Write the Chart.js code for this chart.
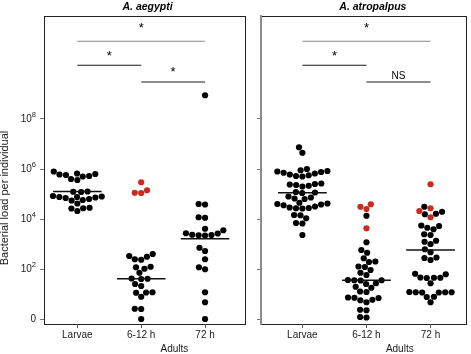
<!DOCTYPE html>
<html>
<head>
<meta charset="utf-8">
<script src="https://cdn.jsdelivr.net/npm/chart.js@4.4.1/dist/chart.umd.min.js"></script>
<style>
  html, body { margin: 0; padding: 0; background: #fff; }
  #wrap { position: relative; width: 471px; height: 354px; overflow: hidden; }
  #c1 { position: absolute; left: 0; top: 0; }
  #c2 { position: absolute; left: 250px; top: 0; }
</style>
</head>
<body>
<div id="wrap">
  <canvas id="c1" width="250" height="354"></canvas>
  <canvas id="c2" width="221" height="354"></canvas>
</div>
<script>
const categories = ['Larvae', '6-12 h', '72 h'];
const yTicks = [0, 2, 4, 6, 8];
const yTickLabels = ['0', '10^2', '10^4', '10^6', '10^8'];

// values are log10 of bacterial load per individual
const aegLarvae = [5.9, 5.82, 5.8, 5.78, 5.76, 5.72, 5.7, 5.6, 5.56, 5.1, 5.09, 5.08, 4.92, 4.9, 4.88, 4.88, 4.86, 4.84, 4.8, 4.76, 4.74, 4.62, 4.45, 4.43, 4.42, 4.32];
const aegLarvaeRed = [];
const aegEarly = [2.6, 2.52, 2.49, 2.39, 2.37, 2.09, 2.07, 2.01, 1.85, 1.62, 1.61, 1.6, 1.4, 1.32, 1.07, 1.06, 1.05, 0.89, 0.41, 0.4, 0];
const aegEarlyRed = [5.47, 5.15, 5.05, 5.04];
const aegLate = [8.95, 4.6, 4.58, 4.07, 4.05, 3.61, 3.55, 3.43, 3.42, 3.37, 3.36, 3.35, 3.34, 2.85, 2.72, 2.39, 2.07, 1.99, 1.07, 0.67, 0];
const aegLateRed = [];
const aegMedians = [5.1, 1.61, 3.21];
const aegSig = ['*', '*', '*'];
const aegSigLevel = [11.8, 10.68, 10.04];

const atrLarvae = [6.87, 6.65, 6.0, 5.95, 5.92, 5.9, 5.88, 5.85, 5.82, 5.78, 5.75, 5.72, 5.7, 5.42, 5.4, 5.38, 5.36, 5.33, 5.3, 5.08, 5.06, 5.04, 4.9, 4.86, 4.82, 4.8, 4.65, 4.62, 4.6, 4.58, 4.55, 4.5, 4.46, 4.44, 4.43, 4.42, 4.16, 4.15, 4.03, 3.84, 3.82, 3.36];
const atrLarvaeRed = [];
const atrEarly = [4.13, 3.07, 2.76, 2.65, 2.43, 2.3, 2.28, 2.1, 2.08, 1.96, 1.85, 1.76, 1.56, 1.55, 1.55, 1.54, 1.43, 1.4, 1.29, 1.25, 1.1, 1.08, 0.86, 0.85, 0.84, 0.77, 0.75, 0.67, 0.37, 0.35, 0.08, 0.06];
const atrEarlyRed = [4.59, 4.49, 4.4, 3.63];
const atrLate = [4.49, 4.29, 4.21, 4.19, 3.74, 3.72, 3.65, 3.59, 3.39, 3.36, 3.13, 3.09, 3.0, 2.79, 2.67, 2.46, 2.44, 2.36, 1.81, 1.79, 1.66, 1.65, 1.65, 1.64, 1.43, 1.08, 1.07, 1.07, 1.07, 1.06, 1.06, 0.89, 0.88, 0.67];
const atrLateRed = [5.39, 4.43, 4.32, 4.07];
const atrMedians = [5.05, 1.55, 2.76];
const atrSig = ['*', '*', 'NS'];
const atrSigLevel = [11.8, 10.68, 9.76];

const bracketFrom = [1, 1, 2];
const bracketTo = [3, 2, 3];
const bracketLevel = [11.11, 10.15, 9.48];

const FONT = '"Liberation Sans", Arial, Helvetica, sans-serif';
const Y_MIN = -0.2, Y_MAX = 12.12;
const PLOT_TOP = 16, PLOT_BOTTOM = 324;

// simple beeswarm: place each dot as close to the centre as it can go
function swarm(vals, pxX, pxY, d) {
  const order = vals.map((v, i) => i).sort((a, b) => vals[a] - vals[b]);
  const placed = [];
  const out = new Array(vals.length);
  for (const i of order) {
    const y = vals[i] * pxY;
    const cands = [0];
    for (const p of placed) {
      const dy = Math.abs(p.y - y);
      if (dy < d) {
        const dx = Math.sqrt(d * d - dy * dy);
        cands.push(p.x - dx, p.x + dx);
      }
    }
    cands.sort((a, b) => Math.abs(a) - Math.abs(b));
    let best = 0;
    for (const c of cands) {
      if (placed.every(p => (p.x - c) ** 2 + (p.y - y) ** 2 >= d * d - 0.01)) { best = c; break; }
    }
    placed.push({ x: best, y: y });
    out[i] = best / pxX;
  }
  return out;
}

function makePanel(id, cfg) {
  const canvas = document.getElementById(id);
  const plotW = canvas.width - cfg.yWidth - cfg.rightPad;
  const pxX = plotW / (cfg.xMax - cfg.xMin);
  const pxY = (PLOT_BOTTOM - PLOT_TOP) / (Y_MAX - Y_MIN);

  const black = [], red = [];
  cfg.groups.forEach((g, i) => {
    const all = g[0].concat(g[1]);
    const off = swarm(all, pxX, pxY, 6.5);
    all.forEach((v, j) => {
      const pt = { x: i + 1 + off[j], y: v };
      if (j < g[0].length) black.push(pt); else red.push(pt);
    });
  });

  const datasets = [];
  cfg.medians.forEach((m, i) => {
    datasets.push({
      data: [{ x: i + 1 - 0.38, y: m }, { x: i + 1 + 0.38, y: m }],
      showLine: true, borderColor: '#111', borderWidth: 1.3, pointRadius: 0, order: 0
    });
  });
  bracketLevel.forEach((lv, i) => {
    datasets.push({
      data: [{ x: bracketFrom[i], y: lv }, { x: bracketTo[i], y: lv }],
      showLine: true, borderColor: i === 0 ? '#8a8a8a' : '#1a1a1a', borderWidth: 1, pointRadius: 0, order: 0
    });
  });
  datasets.push({ data: black, pointRadius: 3.1, pointBackgroundColor: '#000', pointBorderWidth: 0, order: 1 });
  datasets.push({ data: red, pointRadius: 3.1, pointBackgroundColor: '#cc2a1e', pointBorderWidth: 0, order: 1 });

  const decor = {
    id: 'decor',
    beforeDraw(chart) {
      const a = chart.chartArea, ctx = chart.ctx;
      ctx.save();
      ctx.strokeStyle = '#222';
      ctx.lineWidth = 1;
      ctx.strokeRect(a.left + 0.5, a.top + 0.5, a.right - a.left - 1, a.bottom - a.top);
      ctx.restore();
    },
    afterDraw(chart) {
      const ctx = chart.ctx, xs = chart.scales.x, ys = chart.scales.y;
      ctx.save();
      ctx.fillStyle = '#000';
      ctx.textAlign = 'center';
      // panel title
      ctx.font = 'italic bold 10.5px ' + FONT;
      ctx.textBaseline = 'alphabetic';
      ctx.fillText(cfg.title, xs.getPixelForValue(2.1), 10);
      // significance labels
      cfg.sig.forEach((s, i) => {
        const cx = xs.getPixelForValue((bracketFrom[i] + bracketTo[i]) / 2);
        const cy = ys.getPixelForValue(cfg.sigLevel[i]);
        if (s === '*') {
          ctx.font = '13px ' + FONT;
          ctx.fillText(s, cx, cy + 7.5);
        } else {
          ctx.font = '10px ' + FONT;
          ctx.fillText(s, cx, cy + 3.6);
        }
      });
      // group label under adults
      ctx.font = '10px ' + FONT;
      ctx.fillStyle = '#1a1a1a';
      ctx.textBaseline = 'middle';
      ctx.fillText('Adults', xs.getPixelForValue(2.52), 349);
      // y tick labels with raised exponents
      if (cfg.yLabels) {
        const right = ys.right - 8;
        yTicks.forEach((v, i) => {
          const py = ys.getPixelForValue(v);
          const parts = yTickLabels[i].split('^');
          ctx.textAlign = 'right';
          if (parts.length === 1) {
            ctx.font = '10px ' + FONT;
            ctx.fillText(parts[0], right, py);
          } else {
            ctx.font = '7.5px ' + FONT;
            const we = ctx.measureText(parts[1]).width;
            ctx.fillText(parts[1], right, py - 4);
            ctx.font = '10px ' + FONT;
            ctx.fillText(parts[0], right - we, py);
          }
        });
      }
      if (cfg.yTitle) {
        ctx.textAlign = 'center';
        ctx.translate(8, 198);
        ctx.rotate(-Math.PI / 2);
        ctx.font = '11px ' + FONT;
        ctx.textBaseline = 'alphabetic';
        ctx.fillText(cfg.yTitle, 0, 0);
      }
      ctx.restore();
    }
  };

  return new Chart(canvas, {
    type: 'scatter',
    data: { datasets: datasets },
    plugins: [decor],
    options: {
      responsive: false,
      animation: false,
      events: [],
      layout: { padding: { top: PLOT_TOP, right: cfg.rightPad, left: 0, bottom: 0 } },
      plugins: { legend: { display: false }, tooltip: { enabled: false } },
      scales: {
        x: {
          type: 'linear', min: cfg.xMin, max: cfg.xMax,
          afterBuildTicks: s => { s.ticks = [1, 2, 3].map(v => ({ value: v })); },
          afterFit: s => { s.height = 354 - PLOT_BOTTOM; },
          grid: { display: true, drawOnChartArea: false, drawTicks: true, tickLength: 4, color: '#555' },
          border: { display: false },
          ticks: {
            callback: (v, i) => categories[i],
            font: { family: FONT, size: 10 }, color: '#1a1a1a', padding: 1,
            maxRotation: 0, autoSkip: false
          }
        },
        y: {
          type: 'linear', min: Y_MIN, max: Y_MAX,
          afterBuildTicks: s => { s.ticks = yTicks.map(v => ({ value: v })); },
          afterFit: s => { s.width = cfg.yWidth; },
          grid: { display: true, drawOnChartArea: false, drawTicks: true, tickLength: 4, color: '#777' },
          border: cfg.yBorder,
          ticks: { callback: () => '', padding: 4 }
        }
      }
    }
  });
}

makePanel('c1', {
  title: 'A. aegypti',
  yTitle: 'Bacterial load per individual',
  groups: [[aegLarvae, aegLarvaeRed], [aegEarly, aegEarlyRed], [aegLate, aegLateRed]],
  medians: aegMedians, sig: aegSig, sigLevel: aegSigLevel,
  xMin: 0.478, xMax: 3.641, yWidth: 44, rightPad: 2, yLabels: true,
  yBorder: { display: false }
});

makePanel('c2', {
  title: 'A. atropalpus',
  yTitle: null,
  groups: [[atrLarvae, atrLarvaeRed], [atrEarly, atrEarlyRed], [atrLate, atrLateRed]],
  medians: atrMedians, sig: atrSig, sigLevel: atrSigLevel,
  xMin: 0.354, xMax: 3.569, yWidth: 11, rightPad: 1, yLabels: false,
  yBorder: { display: true, color: '#8c8c8c', width: 2 }
});
</script>
</body>
</html>
